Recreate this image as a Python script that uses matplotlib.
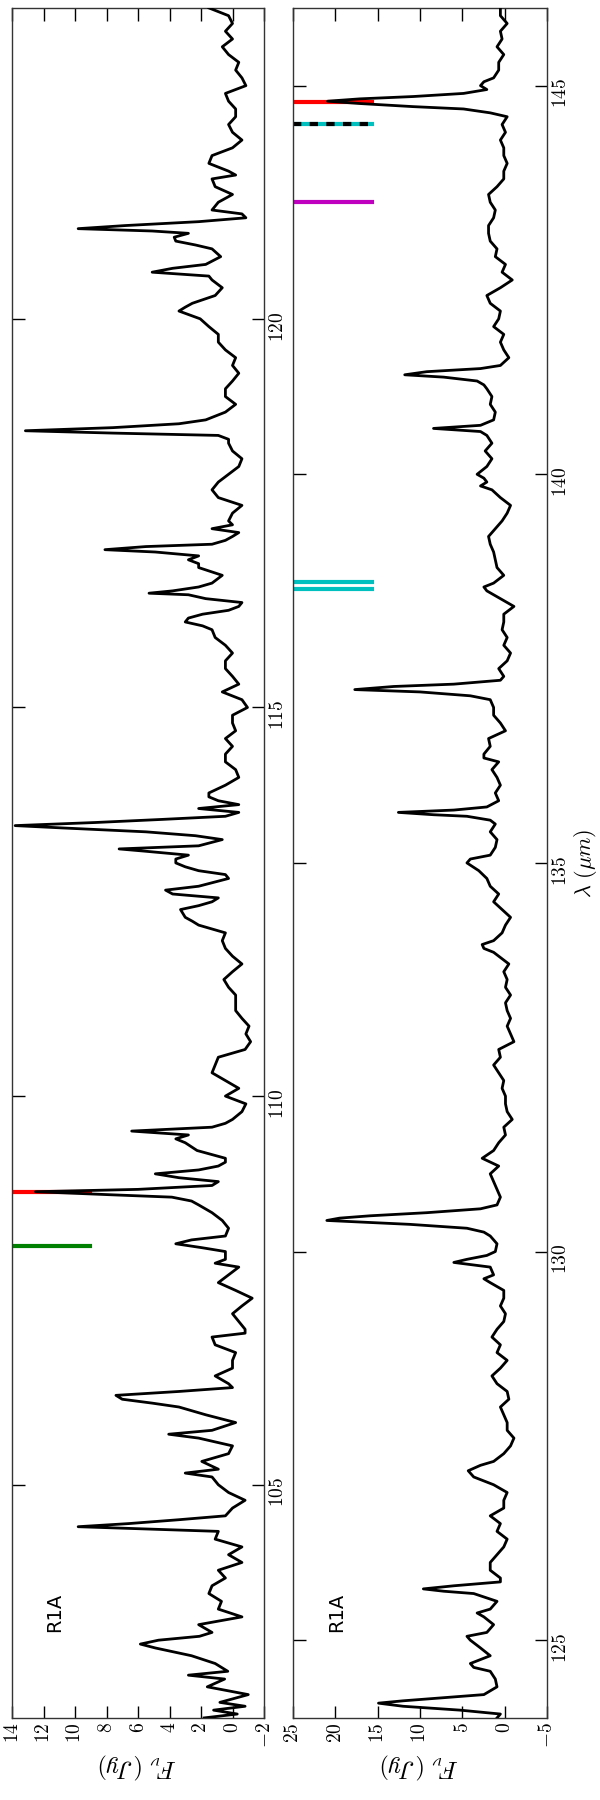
import matplotlib
matplotlib.use("Agg")
import matplotlib.pyplot as plt
from matplotlib.ticker import FuncFormatter, MultipleLocator

plt.rcParams['mathtext.fontset'] = 'cm'

# upper panel: 102-124 micron
wl_a = [102.0, 102.05, 102.1, 102.15, 102.2, 102.3, 102.4, 102.5, 102.55, 102.6,
        102.7, 102.8, 102.9, 102.95, 103.0, 103.05, 103.1, 103.2, 103.3, 103.4,
        103.5, 103.6, 103.7, 103.8, 103.9, 104.0, 104.1, 104.2, 104.3, 104.4,
        104.46, 104.5, 104.55, 104.6, 104.7, 104.8, 104.9, 105.0, 105.1, 105.15,
        105.2, 105.3, 105.4, 105.5, 105.6, 105.65, 105.7, 105.8, 105.9, 106.0,
        106.05, 106.1, 106.15, 106.2, 106.25, 106.3, 106.4, 106.5, 106.6, 106.7,
        106.8, 106.9, 106.95, 107.0, 107.1, 107.2, 107.3, 107.4, 107.5, 107.6,
        107.7, 107.8, 107.85, 107.9, 108.0, 108.05, 108.1, 108.15, 108.2, 108.3,
        108.4, 108.5, 108.6, 108.65, 108.7, 108.73, 108.77, 108.8, 108.85, 108.9,
        108.95, 109.0, 109.05, 109.1, 109.15, 109.2, 109.3, 109.4, 109.45, 109.5,
        109.55, 109.6, 109.65, 109.7, 109.8, 109.9, 110.0, 110.1, 110.2, 110.3,
        110.4, 110.5, 110.6, 110.7, 110.8, 110.9, 111.0, 111.1, 111.2, 111.3,
        111.4, 111.5, 111.6, 111.7, 111.8, 111.9, 112.0, 112.1, 112.2, 112.25,
        112.3, 112.4, 112.45, 112.5, 112.55, 112.6, 112.65, 112.7, 112.8, 112.85,
        112.9, 112.95, 113.0, 113.05, 113.1, 113.15, 113.18, 113.22, 113.3, 113.35,
        113.4, 113.45, 113.48, 113.52, 113.56, 113.6, 113.65, 113.7, 113.75, 113.8,
        113.85, 113.9, 114.0, 114.1, 114.2, 114.3, 114.4, 114.5, 114.6, 114.7,
        114.8, 114.9, 115.0, 115.1, 115.2, 115.3, 115.4, 115.5, 115.6, 115.7,
        115.8, 115.9, 116.0, 116.05, 116.1, 116.15, 116.2, 116.25, 116.3, 116.35,
        116.4, 116.45, 116.47, 116.5, 116.55, 116.6, 116.7, 116.8, 116.85, 116.9,
        116.95, 117.0, 117.03, 117.07, 117.1, 117.15, 117.2, 117.25, 117.3, 117.35,
        117.4, 117.5, 117.6, 117.7, 117.8, 117.9, 118.0, 118.1, 118.2, 118.3,
        118.4, 118.45, 118.5, 118.53, 118.56, 118.6, 118.65, 118.7, 118.8, 118.9,
        119.0, 119.1, 119.2, 119.3, 119.4, 119.5, 119.6, 119.7, 119.8, 119.9,
        120.0, 120.1, 120.15, 120.2, 120.3, 120.4, 120.5, 120.55, 120.6, 120.65,
        120.7, 120.8, 120.9, 120.95, 121.0, 121.05, 121.1, 121.13, 121.16, 121.2,
        121.25, 121.3, 121.35, 121.4, 121.5, 121.6, 121.7, 121.8, 121.85, 121.9,
        122.0, 122.1, 122.2, 122.3, 122.4, 122.5, 122.6, 122.7, 122.8, 122.9,
        123.0, 123.1, 123.2, 123.3, 123.4, 123.5, 123.6, 123.7, 123.8, 123.9,
        124.0]
fx_a = [1.8, -0.3, 1.2, -0.8, 0.8, -1.0, 1.6, 0.5, 2.8, 0.3,
        1.1, 2.6, 4.9, 5.85, 4.7, 2.1, 1.3, 2.15, -0.6, 0.9,
        0.7, 1.5, 1.3, 0.45, 0.9, -0.6, 0.25, -0.6, 1.1, 0.9,
        9.8, 6.6, 3.4, 0.45, 0.0, -0.8, 0.25, 0.9, 1.3, 3.0,
        0.9, 1.95, 0.25, 0.0, 2.15, 4.05, 1.3, -0.2, 1.7, 3.4,
        5.1, 7.0, 7.4, 3.4, 0.0, 0.25, 1.1, 0.0, 0.0, -0.2,
        1.1, 1.3, -0.8, -0.8, -0.4, 0.0, -0.6, -1.25, -0.2, 0.9,
        0.25, -0.4, 1.1, 0.45, 0.45, 1.95, 3.6, 2.6, 0.45, 0.25,
        0.65, 1.3, 2.15, 2.6, 3.85, 7.65, 12.5, 6.0, 1.3, 0.9,
        3.4, 4.9, 2.15, 0.9, 0.45, 0.45, 2.25, 3.0, 3.6, 2.8,
        6.4, 1.3, 0.45, 0.0, -0.6, -0.85, 0.45, -0.4, 0.45, 1.3,
        1.1, 0.9, -0.8, -1.15, -0.85, -1.05, -0.6, -0.2, -0.2, -0.2,
        0.25, 0.55, 0.0, -0.6, 0.0, 0.45, 0.65, 0.45, 2.15, 2.55,
        3.0, 3.3, 2.15, 1.3, 0.9, 3.8, 4.25, 2.15, 0.25, 0.45,
        2.15, 3.0, 3.6, 3.6, 2.8, 5.5, 7.2, 2.15, 0.65, 2.35,
        5.5, 10.8, 13.8, 8.7, 4.45, 0.45, -0.4, 2.15, -0.4, 0.9,
        1.5, 1.5, 0.45, -0.4, -0.2, 0.45, 0.45, 0.0, 0.45, -0.2,
        0.0, 0.0, -0.95, -0.6, 0.65, -0.4, 0.0, 0.45, 0.45, 0.0,
        0.45, 1.1, 1.3, 1.9, 3.0, 2.8, 1.9, 0.25, -0.4, -0.6,
        1.7, 2.8, 5.3, 3.8, 2.15, 1.3, 0.65, 2.15, 2.15, 2.8,
        2.15, 4.9, 8.1, 5.5, 1.3, 0.45, 0.0, -0.4, 1.3, 0.0,
        0.25, 0.0, -0.6, 0.9, 1.3, 0.9, 0.25, -0.4, -0.6, 0.0,
        0.25, 0.25, 0.9, 7.6, 13.15, 7.6, 3.4, 1.7, 0.45, -0.2,
        0.45, 0.45, 0.0, -0.4, 0.0, -0.2, 0.45, 0.9, 0.9, 1.5,
        2.05, 3.4, 3.0, 2.55, 1.1, 0.65, 1.3, 1.5, 5.1, 3.8,
        1.7, 0.75, 1.3, 2.35, 3.6, 3.7, 2.8, 5.1, 9.8, 6.8,
        2.15, -0.85, -0.6, 1.3, 0.9, 0.0, 1.1, 1.3, -0.2, 0.25,
        1.5, 1.3, 0.0, -0.6, 0.0, 0.25, -0.2, -0.2, 0.25, 0.45,
        -0.85, -0.6, -0.2, -0.4, 0.25, 0.65, 0.0, 0.45, 0.0, 0.25,
        1.5]

# lower panel: 124-146 micron
wl_b = [124.0, 124.05, 124.1, 124.15, 124.19, 124.22, 124.27, 124.3, 124.4, 124.5,
        124.6, 124.65, 124.7, 124.8, 124.9, 125.0, 125.05, 125.1, 125.2, 125.3,
        125.35, 125.4, 125.5, 125.6, 125.63, 125.66, 125.7, 125.75, 125.8, 125.9,
        126.0, 126.1, 126.2, 126.3, 126.4, 126.5, 126.6, 126.7, 126.8, 126.9,
        127.0, 127.1, 127.18, 127.25, 127.3, 127.4, 127.5, 127.6, 127.7, 127.8,
        127.9, 128.0, 128.1, 128.2, 128.3, 128.4, 128.5, 128.6, 128.7, 128.8,
        128.9, 129.0, 129.1, 129.2, 129.3, 129.4, 129.5, 129.6, 129.65, 129.7,
        129.75, 129.8, 129.86, 129.9, 129.95, 130.0, 130.1, 130.2, 130.25, 130.3,
        130.35, 130.4, 130.43, 130.46, 130.5, 130.55, 130.6, 130.7, 130.8, 130.9,
        131.0, 131.1, 131.2, 131.3, 131.4, 131.5, 131.6, 131.7, 131.8, 131.9,
        132.0, 132.1, 132.2, 132.3, 132.4, 132.5, 132.6, 132.7, 132.8, 132.9,
        133.0, 133.1, 133.2, 133.3, 133.4, 133.5, 133.6, 133.7, 133.8, 133.85,
        133.9, 133.95, 134.0, 134.1, 134.2, 134.3, 134.4, 134.5, 134.6, 134.7,
        134.8, 134.9, 135.0, 135.05, 135.1, 135.2, 135.3, 135.4, 135.5, 135.55,
        135.6, 135.62, 135.65, 135.68, 135.72, 135.8, 135.9, 136.0, 136.1, 136.2,
        136.3, 136.35, 136.4, 136.5, 136.6, 136.7, 136.8, 136.9, 137.0, 137.1,
        137.15, 137.2, 137.23, 137.27, 137.3, 137.35, 137.4, 137.5, 137.6, 137.7,
        137.8, 137.9, 138.0, 138.1, 138.2, 138.3, 138.4, 138.5, 138.55, 138.6,
        138.7, 138.8, 138.9, 139.0, 139.1, 139.2, 139.3, 139.4, 139.5, 139.6,
        139.7, 139.8, 139.85, 139.9, 139.95, 140.0, 140.1, 140.2, 140.3, 140.4,
        140.5, 140.55, 140.59, 140.63, 140.7, 140.8, 140.9, 141.0, 141.1, 141.15,
        141.2, 141.25, 141.28, 141.32, 141.36, 141.4, 141.5, 141.6, 141.7, 141.8,
        141.9, 142.0, 142.1, 142.2, 142.3, 142.4, 142.5, 142.6, 142.7, 142.8,
        142.9, 143.0, 143.1, 143.2, 143.3, 143.4, 143.5, 143.6, 143.7, 143.8,
        143.9, 144.0, 144.1, 144.2, 144.3, 144.4, 144.5, 144.6, 144.65, 144.7,
        144.73, 144.77, 144.8, 144.83, 144.86, 144.9, 144.95, 145.0, 145.05, 145.1,
        145.2, 145.3, 145.4, 145.5, 145.6, 145.7, 145.8, 145.9, 146.0]
fx_b = [0.9, 0.5, 5.25, 12.0, 14.9, 12.0, 6.0, 2.45, 0.9, 1.1,
        1.7, 3.65, 4.05, 1.7, 2.85, 4.05, 4.45, 2.1, 1.3, 2.45,
        3.25, 1.7, 0.9, 3.65, 7.2, 9.6, 6.0, 0.5, 0.5, 1.7,
        1.7, 0.9, 0.1, -0.3, 0.9, 0.5, 1.7, 0.1, 0.1, -0.3,
        1.3, 3.65, 4.3, 2.85, 1.3, 0.1, -0.7, -1.1, -0.3, -0.3,
        0.1, 0.5, -0.5, -0.3, 0.9, 1.5, 0.5, -0.3, 0.9, 0.5,
        1.5, 0.9, 0.1, -0.1, 0.5, 0.1, 0.1, 1.7, 2.45, 1.3,
        1.5, 1.7, 6.0, 4.45, 2.1, 1.1, 0.9, 1.7, 2.45, 4.45,
        11.2, 21.0, 19.5, 15.9, 9.2, 2.85, 0.9, 0.5, 0.9, 1.3,
        1.7, 0.7, 2.65, 1.3, 0.7, -0.1, 0.1, -0.9, -0.3, -0.1,
        -0.1, 0.3, 0.1, 0.7, 1.3, 0.5, 0.7, -1.1, -0.7, -0.3,
        -0.7, -0.3, -0.1, -0.7, -0.1, -0.3, 0.1, -0.5, 0.7, 1.3,
        2.45, 2.65, 1.3, 0.3, -0.1, -0.7, 0.3, 1.3, 0.7, 1.7,
        2.1, 3.05, 4.45, 4.05, 1.7, 1.1, 0.9, 1.7, 1.1, 1.7,
        4.45, 8.4, 12.55, 6.0, 2.1, 0.7, 1.1, 0.5, 0.9, 1.5,
        0.7, 2.45, 2.45, 1.7, 1.9, -0.1, 0.5, 1.3, 1.3, 1.7,
        4.05, 10.0, 17.7, 13.1, 6.0, 0.5, 0.1, 0.7, -0.3, -0.7,
        0.1, -0.3, 0.3, 0.1, 0.1, -1.1, 0.5, 2.1, 2.45, 1.3,
        0.1, 0.9, 1.1, 1.3, 1.7, 1.9, 1.1, 0.3, -0.3, -0.7,
        0.5, 1.5, 2.85, 2.1, 2.45, 3.25, 2.1, 1.5, 2.3, 1.5,
        2.1, 2.85, 8.4, 2.85, 1.3, 1.1, 1.7, 1.5, 2.1, 2.45,
        3.25, 7.2, 11.8, 9.2, 2.85, 0.5, -0.5, 0.1, 0.5, 0.1,
        1.3, 0.7, 0.5, 1.7, 2.1, 0.5, -0.9, 0.3, -0.1, 1.1,
        0.9, 1.7, 1.9, 1.9, 1.3, 1.1, 1.7, 1.9, 0.9, 0.1,
        0.1, -0.3, 0.1, 0.1, 0.5, -0.1, 0.3, -0.3, 1.7, 4.85,
        10.8, 17.1, 20.9, 17.1, 10.8, 4.85, 2.1, 2.85, 2.45, 1.3,
        0.7, 0.7, 0.1, 0.9, 0.3, 0.5, -0.3, 0.5, 0.5]

# line identifications
lines_a = [108.77, 108.07]
colors_a = ['r', 'g']
lines_b = [144.79, 143.50, 138.53, 138.61]
colors_b = ['r', 'm', 'c', 'c']
dashed_b = 144.51

fig = plt.figure(figsize=(6, 18), dpi=100)
ax1 = fig.add_axes([0.02, 0.0456, 0.42, 0.95])
ax2 = fig.add_axes([0.4883, 0.0456, 0.4233, 0.95])

mfmt = FuncFormatter(lambda v, p: r'$%g$' % v)

panels = [(ax1, wl_a, fx_a, (14, -2), (102, 124), 2, lines_a, colors_a),
          (ax2, wl_b, fx_b, (25, -5), (124, 146), 5, lines_b, colors_b)]

for ax, wl, fx, xl, yl, step, lw_pos, lw_col in panels:
    for pos, col in zip(lw_pos, lw_col):
        ax.axhline(pos, xmin=0, xmax=0.31, color=col, lw=3, zorder=1)
    ax.plot(fx, wl, color='k', lw=2.0, zorder=3)
    ax.set_xlim(*xl)
    ax.set_ylim(*yl)
    ax.xaxis.set_major_locator(MultipleLocator(step))
    ax.yaxis.set_major_locator(MultipleLocator(5))
    ax.xaxis.set_major_formatter(mfmt)
    ax.yaxis.set_major_formatter(mfmt)
    ax.tick_params(direction='in', length=9, width=1, top=True, right=True,
                   labelsize=14, labelleft=False, labelright=True, pad=3)
    ax.tick_params(axis='x', labelrotation=90)
    ax.tick_params(axis='y', labelrotation=90)
    for s in ax.spines.values():
        s.set_linewidth(1)
        s.set_color('#333333')
    ax.set_xlabel(r'$F_\nu\ (Jy)$', fontsize=18, rotation=180, labelpad=2)
    ax.text(0.17, 0.062, 'R1A', transform=ax.transAxes, rotation=90,
            ha='center', va='center', fontsize=14, family='DejaVu Sans')

ax2.axhline(dashed_b, xmin=0, xmax=0.31, color='c', lw=3, zorder=1)
ax2.axhline(dashed_b, xmin=0, xmax=0.31, color='k', lw=3, zorder=2,
            dashes=(2, 2))

ax2.yaxis.set_label_position('right')
ax2.set_ylabel(r'$\lambda\ (\mu m)$', fontsize=16, rotation=90, labelpad=1)

fig.savefig('out.png', dpi=100)
